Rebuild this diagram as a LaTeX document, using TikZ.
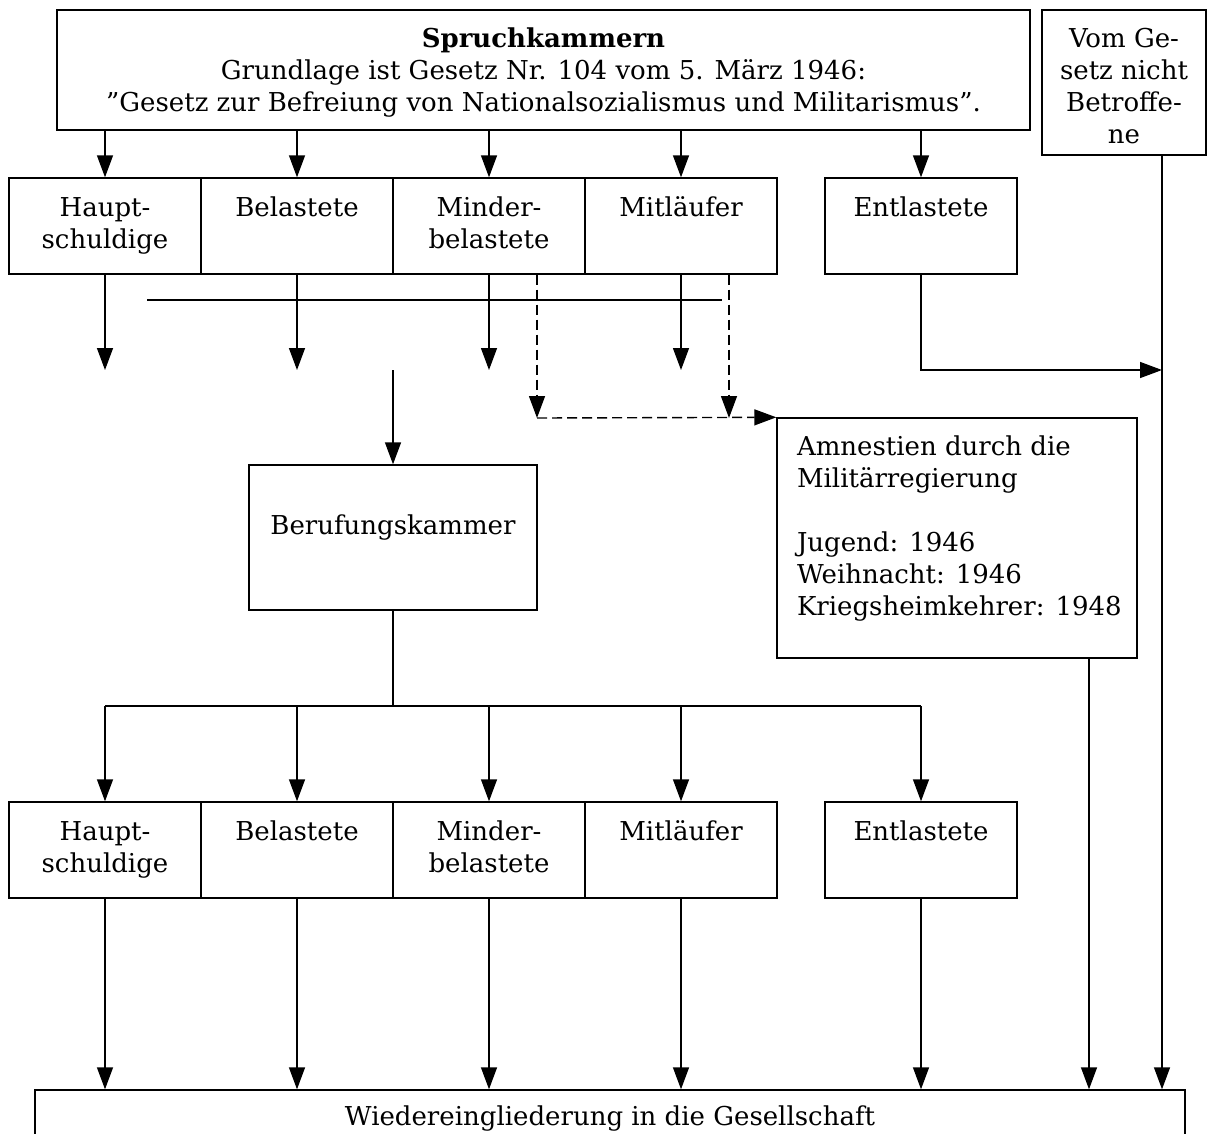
\documentclass[tikz,border=0pt]{standalone}
\usepackage{fontspec}
\setmainfont{DejaVu Serif}
\usetikzlibrary{arrows.meta}
\newcommand{\cellbox}[4]{\parbox[c][#2][t]{#1}{\centering\vspace*{#3}\strut #4\par}}
\newcommand{\leftcell}[4]{\parbox[c][#2][t]{#1}{\raggedright\leftskip=20pt\relax\vspace*{#3}\strut #4\par}}
\begin{document}
\begin{tikzpicture}[x=1pt,y=-1pt, line width=1.4pt,
  bx/.style={draw, inner sep=0pt, font=\fontsize{26}{32}\selectfont},
  arr/.style={-{Triangle[width=16pt,length=22pt]}},
  dsh/.style={dash pattern=on 10pt off 5pt}]
\useasboundingbox (0,0) rectangle (1207,1133);
% boxes
\node[bx] (spk) at (543.5,70) {\cellbox{973pt}{120pt}{15pt}{\textbf{Spruchkammern}\\Grundlage ist Gesetz Nr. 104 vom 5. März 1946:\\”Gesetz zur Befreiung von Nationalsozialismus und Militarismus”.}};
\node[bx] (vom) at (1124,82.5) {\cellbox{164pt}{145pt}{15pt}{Vom Ge-\\setz nicht\\Betroffe-\\ne}};
\node[bx] (h1) at (105,226) {\cellbox{192pt}{96pt}{16pt}{Haupt-\\schuldige}};
\node[bx] (b1) at (297,226) {\cellbox{192pt}{96pt}{16pt}{Belastete}};
\node[bx] (m1) at (489,226) {\cellbox{192pt}{96pt}{16pt}{Minder-\\belastete}};
\node[bx] (l1) at (681,226) {\cellbox{192pt}{96pt}{16pt}{Mitläufer}};
\node[bx] (e1) at (921,226) {\cellbox{192pt}{96pt}{16pt}{Entlastete}};
\node[bx] (bk) at (393,537.5) {\cellbox{288pt}{145pt}{47pt}{Berufungskammer}};
\node[bx] (am) at (957,538) {\leftcell{360pt}{240pt}{15pt}{Amnestien durch die\\Militärregierung\\[32pt]Jugend: 1946\\Weihnacht: 1946\\Kriegsheimkehrer: 1948}};
\node[bx] (h2) at (105,850) {\cellbox{192pt}{96pt}{16pt}{Haupt-\\schuldige}};
\node[bx] (b2) at (297,850) {\cellbox{192pt}{96pt}{16pt}{Belastete}};
\node[bx] (m2) at (489,850) {\cellbox{192pt}{96pt}{16pt}{Minder-\\belastete}};
\node[bx] (l2) at (681,850) {\cellbox{192pt}{96pt}{16pt}{Mitläufer}};
\node[bx] (e2) at (921,850) {\cellbox{192pt}{96pt}{16pt}{Entlastete}};
\node[bx] (wie) at (610,1135) {\cellbox{1150pt}{90pt}{13pt}{Wiedereingliederung in die Gesellschaft}};
% helper coordinates
\coordinate (lv1) at (0,370);
\coordinate (lv2) at (0,706);
\coordinate (hlA) at (147,300);
\coordinate (hlB) at (722,300);
\coordinate (dA) at (537,418);
\coordinate (dB) at (729,418);
\coordinate (vx) at (1162,0);
\coordinate (ax) at (1089,0);
\coordinate (bkin) at (393,370);
% connectors
\foreach \n in {h1,b1,m1,l1,e1} \draw[arr] (spk.south -| \n.north) -- (\n.north);
\foreach \n in {h1,b1,m1,l1} \draw[arr] (\n.south) -- (\n.south |- lv1);
\draw (hlA) -- (hlB);
\draw[dsh,arr] (m1.south -| dA) -- (dA);
\draw[dsh,arr] (l1.south -| dB) -- (dB);
\draw[dsh,arr] (dA) -- (am.north west);
\draw[arr] (e1.south) -- (e1.south |- lv1) -- (vx |- lv1);
\draw[arr] (vom.south -| vx) -- (wie.north -| vx);
\draw[arr] (bkin) -- (bk.north);
\draw (bk.south) -- (bk.south |- lv2);
\draw (h2.north |- lv2) -- (e2.north |- lv2);
\foreach \n in {h2,b2,m2,l2,e2} \draw[arr] (\n.north |- lv2) -- (\n.north);
\foreach \n in {h2,b2,m2,l2,e2} \draw[arr] (\n.south) -- (wie.north -| \n.south);
\draw[arr] (am.south -| ax) -- (wie.north -| ax);
\end{tikzpicture}
\end{document}
